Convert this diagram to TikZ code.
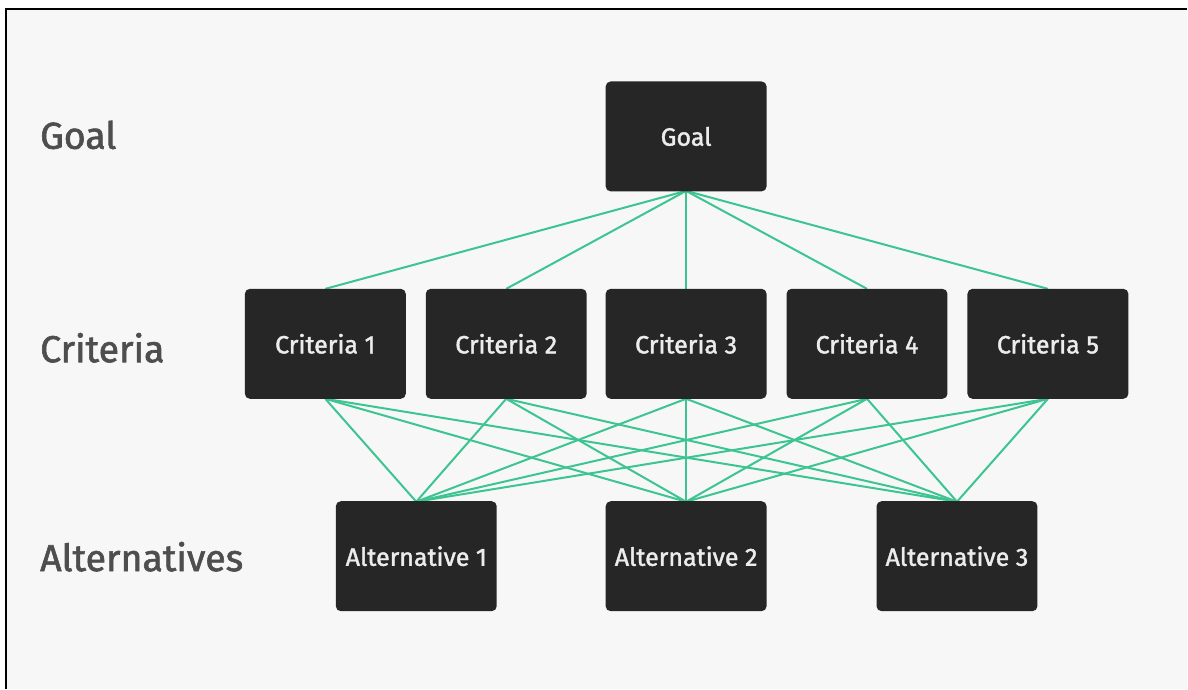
\documentclass[tikz,border=0pt]{standalone}
\usepackage{fontspec}
\setmainfont{Fira Sans}[FakeBold=1.6]
\definecolor{bgpanel}{RGB}{247,247,247}
\definecolor{boxfill}{RGB}{38,38,38}
\definecolor{boxtext}{RGB}{236,236,236}
\definecolor{levellabel}{RGB}{78,78,78}
\definecolor{linkgreen}{RGB}{60,196,146}
\tikzset{
  hbox/.style={fill=boxfill, rounded corners=5pt, minimum width=161pt, minimum height=110pt,
    inner sep=0pt, text=boxtext, font=\fontsize{25}{29}\selectfont},
  level/.style={anchor=west, text=levellabel, font=\fontsize{37.5}{44}\selectfont, inner sep=0pt},
  link/.style={draw=linkgreen, line width=2pt}
}
\begin{document}
\begin{tikzpicture}[x=1pt,y=-1pt]
  % page and framed panel
  \fill[white] (0,0) rectangle (1188,689);
  \fill[bgpanel] (6,9) rectangle (1188,689);
  \draw[line width=1.3pt, black] (6,689) -- (6,9) -- (1188,9);
  \useasboundingbox (0,0) rectangle (1188,689);

  % level labels
  \node[level] (lgoal) at (40,135) {Goal};
  \node[level] (lcrit) at (40,348) {Criteria};
  \node[level] (lalt)  at (40,557) {Alternatives};

  % links (drawn first so boxes cover the ends)
  \coordinate (g) at (686.5,191);
  \foreach \x [count=\i] in {325.5,506.5,686.5,867.5,1048.5} {
    \coordinate (ct\i) at (\x,289);
    \coordinate (cb\i) at (\x,399);
  }
  \foreach \x [count=\j] in {416.5,686.5,957.5} {
    \coordinate (at\j) at (\x,502);
  }
  \foreach \i in {1,...,5} { \draw[link] (g) -- (ct\i); }
  \foreach \i in {1,...,5} { \foreach \j in {1,2,3} { \draw[link] (cb\i) -- (at\j); } }

  % hierarchy boxes
  \node[hbox] (goal) at (686.5,136.5) {Goal};
  \node[hbox] (c1) at (325.5,344) {Criteria 1};
  \node[hbox] (c2) at (506.5,344) {Criteria 2};
  \node[hbox] (c3) at (686.5,344) {Criteria 3};
  \node[hbox] (c4) at (867.5,344) {Criteria 4};
  \node[hbox] (c5) at (1048.5,344) {Criteria 5};
  \node[hbox] (a1) at (416.5,556.5) {Alternative 1};
  \node[hbox] (a2) at (686.5,556.5) {Alternative 2};
  \node[hbox] (a3) at (957.5,556.5) {Alternative 3};
\end{tikzpicture}
\end{document}
